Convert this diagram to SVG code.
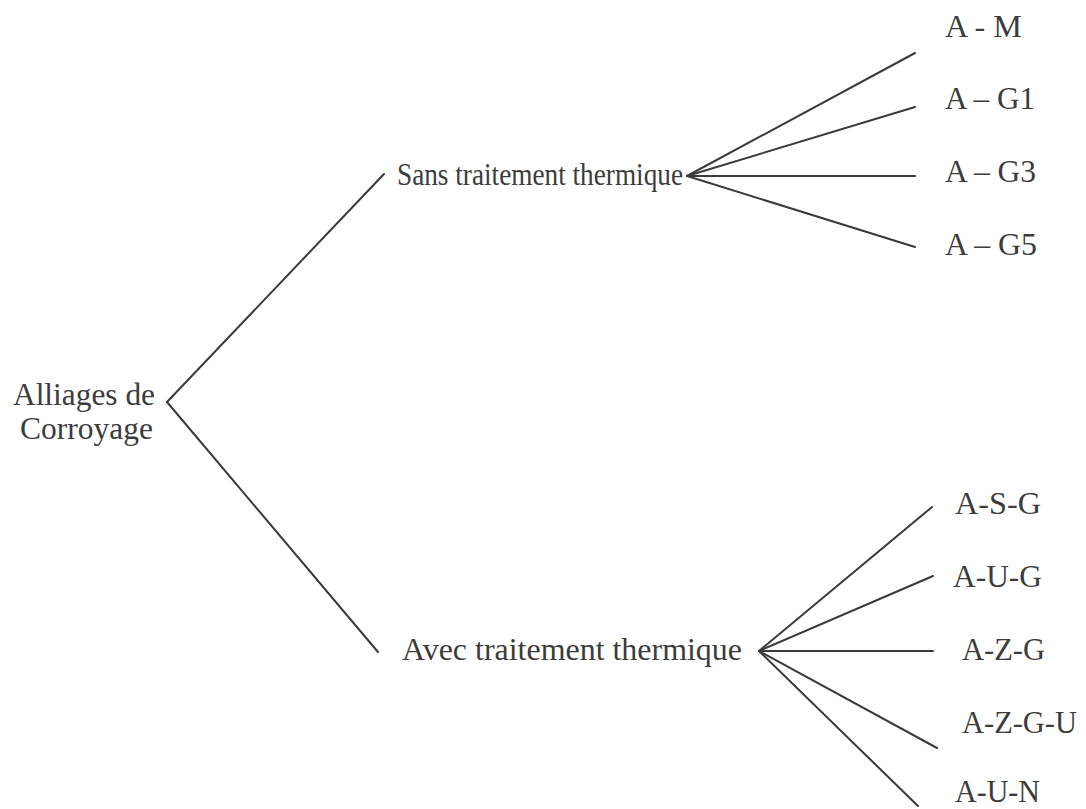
<svg xmlns="http://www.w3.org/2000/svg" width="1086" height="809" viewBox="0 0 1086 809">
<style>
text{font-family:"Liberation Serif","Times New Roman",serif;fill:#3c3c3c;font-size:31px}
.c line{stroke:#3a3a3a;stroke-width:2;stroke-linecap:round}
</style>
<rect width="1086" height="809" fill="#fff"/>
<g class="c" id="connectors">
<line x1="167" y1="402" x2="384" y2="174"/>
<line x1="167" y1="402" x2="378" y2="652"/>
<line x1="687" y1="176" x2="915" y2="53"/>
<line x1="687" y1="176" x2="915" y2="107"/>
<line x1="687" y1="176" x2="915" y2="176"/>
<line x1="687" y1="176" x2="915" y2="247"/>
<line x1="759" y1="651" x2="932" y2="507"/>
<line x1="759" y1="651" x2="933" y2="576"/>
<line x1="759" y1="651" x2="933" y2="651"/>
<line x1="759" y1="651" x2="937" y2="748"/>
<line x1="759" y1="651" x2="918" y2="806"/>
</g>
<g id="root"><text x="84" y="405" text-anchor="middle" textLength="142" lengthAdjust="spacingAndGlyphs">Alliages de</text><text x="86.5" y="439" text-anchor="middle" textLength="133" lengthAdjust="spacingAndGlyphs">Corroyage</text></g>
<g id="sans"><text x="397" y="185" font-size="27" textLength="286" lengthAdjust="spacingAndGlyphs">Sans traitement thermique</text></g>
<g id="avec"><text x="402" y="660" textLength="340" lengthAdjust="spacingAndGlyphs">Avec traitement thermique</text></g>
<g id="am"><text x="945" y="37" textLength="77" lengthAdjust="spacingAndGlyphs">A - M</text></g>
<g id="ag1"><text x="945" y="109" textLength="90" lengthAdjust="spacingAndGlyphs">A – G1</text></g>
<g id="ag3"><text x="945" y="182" textLength="91" lengthAdjust="spacingAndGlyphs">A – G3</text></g>
<g id="ag5"><text x="945" y="255" textLength="92" lengthAdjust="spacingAndGlyphs">A – G5</text></g>
<g id="asg"><text x="955" y="514" textLength="86" lengthAdjust="spacingAndGlyphs">A-S-G</text></g>
<g id="aug"><text x="953" y="587" textLength="89" lengthAdjust="spacingAndGlyphs">A-U-G</text></g>
<g id="azg"><text x="962" y="660" textLength="83" lengthAdjust="spacingAndGlyphs">A-Z-G</text></g>
<g id="azgu"><text x="962" y="733" textLength="115" lengthAdjust="spacingAndGlyphs">A-Z-G-U</text></g>
<g id="aun"><text x="955" y="802" textLength="85" lengthAdjust="spacingAndGlyphs">A-U-N</text></g>
</svg>
